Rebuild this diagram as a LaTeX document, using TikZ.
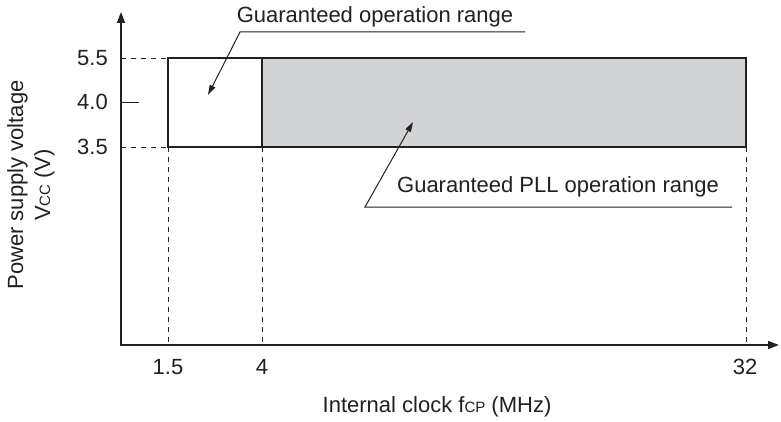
\documentclass[tikz,border=0pt]{standalone}
\usepackage{fontspec}
\setmainfont{Liberation Sans}
\usetikzlibrary{arrows.meta, positioning}
\definecolor{inkgray}{RGB}{35, 31, 32}
\definecolor{pllgray}{RGB}{209, 211, 212}
\newcommand{\subcaps}[1]{{\fontsize{15}{15}\selectfont #1}}

\begin{document}
\begin{tikzpicture}[
  x=1pt, y=1pt,
  every node/.style={text=inkgray, font=\fontsize{22}{27}\selectfont},
  axis/.style={draw=inkgray, line width=1.4pt, {Triangle[length=11pt, width=8pt]}-{Triangle[length=11pt, width=8pt]}},
  guide/.style={draw=inkgray, line width=0.9pt, dash pattern=on 5pt off 5pt},
  rangebox/.style={rectangle, draw=inkgray, line width=2.4pt, outer sep=0pt, minimum height=89pt, anchor=south west},
  callout/.style={draw=inkgray, line width=1pt, -{Triangle[length=10pt, width=6pt]}},
  ticklabel/.style={inner sep=0pt},
]
  \useasboundingbox (-121,-76) rectangle (660,345);

  % ranges
  \node[rangebox, minimum width=94pt] (opr) at (47,198) {};
  \node[rangebox, fill=pllgray, minimum width=484pt] (pll) at (opr.south east) {};

  % axes
  \coordinate (origin) at (0,0);
  \coordinate (ytip) at (0,333);
  \coordinate (xtip) at (658,0);
  \draw[axis] (ytip) -- (origin) -- (xtip);
  \draw[guide] (origin |- opr.north west) -- (opr.north west);
  \draw[guide] (origin |- opr.south west) -- (opr.south west);
  \foreach \corner in {opr.south west, pll.south west, pll.south east}
    \draw[guide] (\corner) -- (\corner |- origin);
  \coordinate (mid) at (0,243);
  \draw[draw=inkgray, line width=1pt] (mid) -- ++(18,0);

  % tick labels
  \node[ticklabel, anchor=east] (v55) at (-13,287) {5.5};
  \node[ticklabel, anchor=east] (v40) at (-13,243) {4.0};
  \node[ticklabel, anchor=east] (v35) at (-13,198) {3.5};
  \node (f15) at (47,-22) {1.5};
  \node (f4) at (141,-22) {4};
  \node (f32) at (624,-22) {32};

  % axis titles
  \node[rotate=90, align=center] (vcc) at (-90,160) {Power supply voltage\\V\subcaps{CC} (V)};
  \node (fcp) at (316,-62) {Internal clock f\subcaps{CP} (MHz)};

  % callouts
  \node (oprtext) at (254,328) {Guaranteed operation range};
  \coordinate (oprL) at (119,313);
  \coordinate (oprR) at (404,313);
  \coordinate (oprtip) at (87,250);
  \draw[callout] (oprR) -- (oprL) -- (oprtip);

  \node (plltext) at (437,158) {Guaranteed PLL operation range};
  \coordinate (pllL) at (244,138);
  \coordinate (pllR) at (611,138);
  \coordinate (plltip) at (292,223);
  \draw[callout] (pllR) -- (pllL) -- (plltip);
\end{tikzpicture}
\end{document}
